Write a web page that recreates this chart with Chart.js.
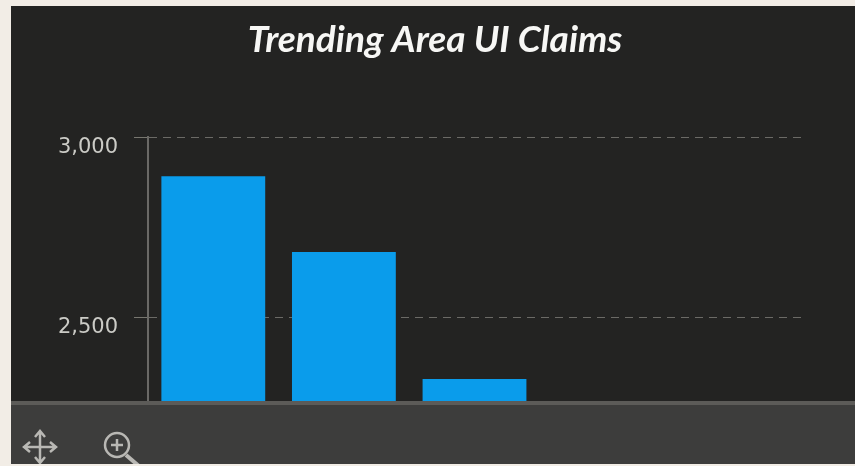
<!DOCTYPE html>
<html>
<head>
<meta charset="utf-8">
<style>
    html, body { margin: 0; height: 100%; background: #f2ede6; overflow: hidden; }
    #panel { position: absolute; left: 11px; top: 6px; width: 844px; height: 458px; background: #232322; overflow: hidden; }
    #plot { position: absolute; left: 0; top: 0; width: 844px; height: 395px; }
    #toolbar { position: absolute; left: 0; top: 395px; width: 844px; height: 63px; background: #3d3d3c; border-top: 4px solid #5c5b58; box-sizing: border-box; }
    #toolbar svg { position: absolute; left: 0; top: 0; }
</style>
<script src="https://cdn.jsdelivr.net/npm/chart.js@4"></script>
</head>
<body>
<div id="panel">
    <div id="plot"><canvas id="chart"></canvas></div>
    <div id="toolbar">
        <svg width="200" height="59" fill="none" stroke="#b9b8b4" stroke-width="2.5">
            <!-- pan icon -->
            <path d="M29 27V57M14 42H44M24 32l5-6 5 6M24 52l5 6 5-6M19 37l-6 5 6 5M39 37l6 5-6 5"/>
            <!-- zoom icon -->
            <circle cx="106" cy="40" r="12"/>
            <path d="M100 40h12M106 34v12" stroke-width="2.5"/>
            <path d="M115 50l14 12" stroke-width="4"/>
        </svg>
    </div>
</div>
<script>
// values, y axis is cut at the toolbar
const categories = ['1', '2', '3', '4', '5'];
const claims = [2892, 2681, 2328, null, null];
const yTicks = [2500, 3000];
const yMin = 2267;
const yMax = 3000;

new Chart(document.getElementById('chart'), {
    type: 'bar',
    data: {
        labels: categories,
        datasets: [{
            data: claims,
            backgroundColor: '#0a9ceb',
            categoryPercentage: 0.795,
            barPercentage: 1,
        }]
    },
    options: {
        responsive: true,
        maintainAspectRatio: false,
        animation: false,
        // small left padding keeps the title centred where the original has it
        layout: { padding: { left: 4 } },
        plugins: {
            legend: { display: false },
            tooltip: { enabled: false },
            title: {
                display: true,
                text: 'Trending Area UI Claims',
                color: '#f7f7f5',
                font: { family: 'Lato', size: 37, style: 'italic', weight: '700' },
                padding: { top: 12, bottom: 75 },
            }
        },
        scales: {
            x: { display: false },
            y: {
                min: yMin,
                max: yMax,
                afterBuildTicks: scale => { scale.ticks = yTicks.map(value => ({ value })); },
                afterFit: scale => {
                    scale.width = 133;
                    scale.paddingTop = 0;
                    scale.paddingBottom = 0;
                },
                border: { display: true, color: '#6a6966', width: 2, dash: [8, 6] },
                grid: {
                    color: '#6b6a66',
                    tickColor: '#77766f',
                    tickLength: 14,
                    tickBorderDash: [],
                },
                ticks: {
                    padding: 16,
                    labelOffset: 10,
                    color: '#cbcbc6',
                    font: { family: 'DejaVu Sans', size: 21 },
                    callback: value => value.toLocaleString('en-US'),
                }
            },
            // empty axis, only reserves the gap right of the gridlines
            spacer: {
                position: 'right',
                grid: { display: false },
                border: { display: false },
                ticks: { display: false },
                afterFit: scale => { scale.width = 54; },
            }
        }
    }
});
</script>
</body>
</html>
